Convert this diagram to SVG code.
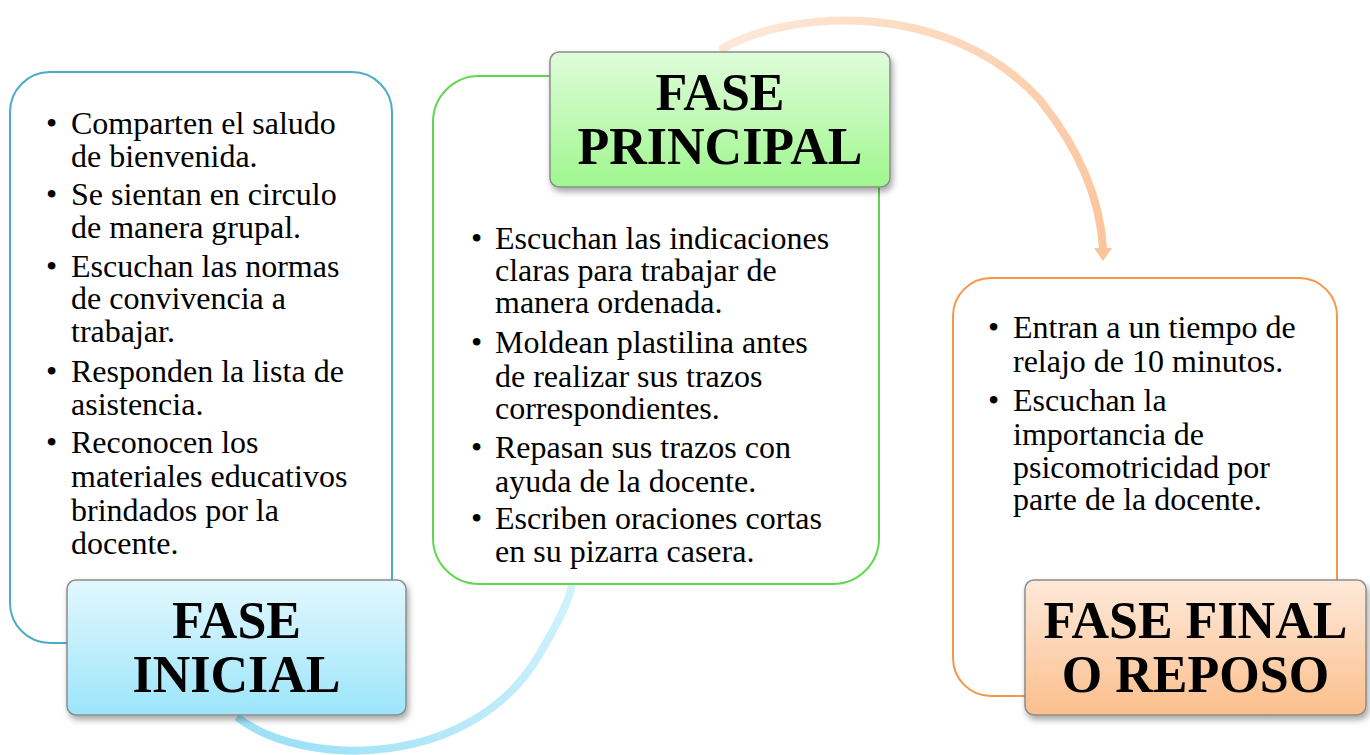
<svg xmlns="http://www.w3.org/2000/svg" width="1370" height="755" viewBox="0 0 1370 755">
<defs>
<linearGradient id="gBlue" x1="0" y1="0" x2="0" y2="1"><stop offset="0" stop-color="#e2f8fe"/><stop offset="1" stop-color="#9ce5fa"/></linearGradient>
<linearGradient id="gGreen" x1="0" y1="0" x2="0" y2="1"><stop offset="0" stop-color="#e0fcda"/><stop offset="1" stop-color="#9ff78e"/></linearGradient>
<linearGradient id="gOrange" x1="0" y1="0" x2="0" y2="1"><stop offset="0" stop-color="#fee9da"/><stop offset="1" stop-color="#fbbf8c"/></linearGradient>
<linearGradient id="aBlue" gradientUnits="userSpaceOnUse" x1="572" y1="585" x2="300" y2="745"><stop offset="0" stop-color="#d2f2fc"/><stop offset="1" stop-color="#9fe2f7"/></linearGradient>
<linearGradient id="aOrange" gradientUnits="userSpaceOnUse" x1="720" y1="50" x2="1103" y2="250"><stop offset="0" stop-color="#fde8d8"/><stop offset="1" stop-color="#fbc59c"/></linearGradient>
<filter id="sh" x="-10%" y="-10%" width="125%" height="130%"><feDropShadow dx="2" dy="4" stdDeviation="3" flood-color="#000" flood-opacity="0.35"/></filter>
</defs>
<style>
.body{font-family:"Liberation Serif","Times New Roman",serif;font-size:32px;fill:#000}
.lab{font-family:"Liberation Serif","Times New Roman",serif;font-size:52px;font-weight:bold;fill:#000;text-anchor:middle}
.lbox{stroke:#8c8c8c;stroke-width:1.5;filter:url(#sh)}
.obox{fill:#fff;stroke-width:2}
</style>
<g id="connectors">
<path d="M237,717 C300,768 475,772 542,650 C556,625 568,605 572,585" fill="none" stroke="url(#aBlue)" stroke-width="8"/>
<path d="M720,50 C790,8 950,0 1040,100 C1080,150 1100,200 1103,248" fill="none" stroke="url(#aOrange)" stroke-width="8"/>
<polygon points="1094,248 1112,248 1103,261" fill="#fbc59c"/>
</g>
<g id="node-inicial">
<rect x="10" y="72" width="382" height="571" rx="40" class="obox" stroke="#4bacc6"/>
<text class="body">
<tspan x="46" y="134">•</tspan><tspan x="71" y="134">Comparten el saludo</tspan>
<tspan x="71" y="167">de bienvenida.</tspan>
<tspan x="46" y="205">•</tspan><tspan x="71" y="205">Se sientan en circulo</tspan>
<tspan x="71" y="238">de manera grupal.</tspan>
<tspan x="46" y="277">•</tspan><tspan x="71" y="277">Escuchan las normas</tspan>
<tspan x="71" y="309">de convivencia a</tspan>
<tspan x="71" y="342">trabajar.</tspan>
<tspan x="46" y="382">•</tspan><tspan x="71" y="382">Responden la lista de</tspan>
<tspan x="71" y="415">asistencia.</tspan>
<tspan x="46" y="453">•</tspan><tspan x="71" y="453">Reconocen los</tspan>
<tspan x="71" y="487">materiales educativos</tspan>
<tspan x="71" y="521">brindados por la</tspan>
<tspan x="71" y="554">docente.</tspan>
</text>
<rect x="67" y="580" width="339" height="135" rx="9" fill="url(#gBlue)" class="lbox"/>
<text class="lab"><tspan x="236.5" y="638">FASE</tspan><tspan x="236.5" y="692">INICIAL</tspan></text>
</g>
<g id="node-principal">
<rect x="433" y="76" width="446" height="508" rx="46" class="obox" stroke="#5fd84e"/>
<text class="body">
<tspan x="471" y="249">•</tspan><tspan x="495" y="249">Escuchan las indicaciones</tspan>
<tspan x="495" y="281">claras para trabajar de</tspan>
<tspan x="495" y="313">manera ordenada.</tspan>
<tspan x="471" y="353">•</tspan><tspan x="495" y="353">Moldean plastilina antes</tspan>
<tspan x="495" y="387">de realizar sus trazos</tspan>
<tspan x="495" y="419">correspondientes.</tspan>
<tspan x="471" y="458">•</tspan><tspan x="495" y="458">Repasan sus trazos con</tspan>
<tspan x="495" y="492">ayuda de la docente.</tspan>
<tspan x="471" y="529">•</tspan><tspan x="495" y="529">Escriben oraciones cortas</tspan>
<tspan x="495" y="562">en su pizarra casera.</tspan>
</text>
<rect x="550" y="52" width="340" height="135" rx="9" fill="url(#gGreen)" class="lbox"/>
<text class="lab"><tspan x="720" y="110">FASE</tspan><tspan x="720" y="164">PRINCIPAL</tspan></text>
</g>
<g id="node-final">
<rect x="953" y="278" width="384" height="418" rx="38" class="obox" stroke="#f79646"/>
<text class="body">
<tspan x="988" y="338">•</tspan><tspan x="1013" y="338">Entran a un tiempo de</tspan>
<tspan x="1013" y="372">relajo de 10 minutos.</tspan>
<tspan x="988" y="411">•</tspan><tspan x="1013" y="411">Escuchan la</tspan>
<tspan x="1013" y="445">importancia de</tspan>
<tspan x="1013" y="478">psicomotricidad por</tspan>
<tspan x="1013" y="510">parte de la docente.</tspan>
</text>
<rect x="1025" y="580" width="341" height="135" rx="9" fill="url(#gOrange)" class="lbox"/>
<text class="lab"><tspan x="1195.5" y="638">FASE FINAL</tspan><tspan x="1195.5" y="692">O REPOSO</tspan></text>
</g>
</svg>
